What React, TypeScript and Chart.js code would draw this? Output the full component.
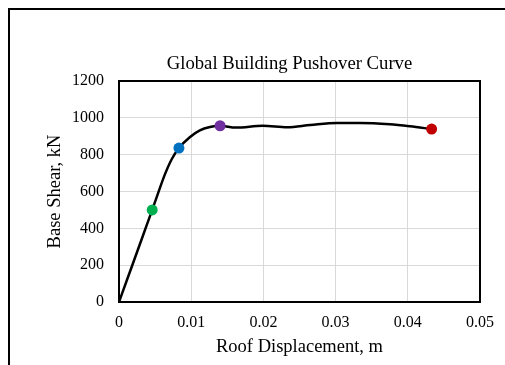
import React, { useEffect, useRef } from "react";
import { Chart, registerables } from "chart.js";

Chart.register(...registerables);

// Pushover curve (roof displacement in m, base shear in kN)
const displacement = [0, 0.0013, 0.0027, 0.0038, 0.0046, 0.0055, 0.0064, 0.0073, 0.0083, 0.0098, 0.0112, 0.0126, 0.014, 0.0162, 0.0199, 0.0233, 0.0265, 0.0302, 0.0334, 0.0375, 0.0403, 0.0433];
const baseShear = [0, 141, 293, 413, 500, 601, 697, 775, 836, 895, 932, 950, 957, 947, 957, 949, 961, 972, 972, 965, 954, 939];

// Performance points
const markerX = [0.0046, 0.0083, 0.014, 0.0433];
const markerY = [500, 836, 957, 939];
const markerColors = ["#00B050", "#0070C0", "#7030A0", "#C00000"];

const xTickLabels = ["0", "0.01", "0.02", "0.03", "0.04", "0.05"];
const yTickLabels = ["0", "200", "400", "600", "800", "1000", "1200"];

const chartTitle = "Global Building Pushover Curve";
const xTitle = "Roof Displacement, m";
const yTitle = "Base Shear, kN";

const FONT = "'Liberation Serif', 'Times New Roman', serif";

const framePlugin = {
  id: "plotFrame",
  beforeDatasetsDraw(chart: any) {
    const { ctx, chartArea } = chart;
    ctx.save();
    ctx.strokeStyle = "#000";
    ctx.lineWidth = 2;
    ctx.strokeRect(chartArea.left, chartArea.top, chartArea.right - chartArea.left, chartArea.bottom - chartArea.top);
    ctx.restore();
  },
  afterDraw(chart: any) {
    const { ctx, chartArea } = chart;
    ctx.save();
    ctx.fillStyle = "#000";
    ctx.font = `18.7px ${FONT}`;
    ctx.textAlign = "center";
    ctx.textBaseline = "alphabetic";
    ctx.fillText(chartTitle, chartArea.left + 170.5, chartArea.top - 12.5);
    ctx.restore();
  },
};

export default function App() {
  const ref = useRef<HTMLCanvasElement | null>(null);

  useEffect(() => {
    if (!ref.current) return;
    const datasets: any[] = [
      {
        data: displacement.map((x, i) => ({ x, y: baseShear[i] })),
        showLine: true,
        borderColor: "#000",
        borderWidth: 2.5,
        pointRadius: 0,
        cubicInterpolationMode: "monotone",
        order: 2,
      },
      ...markerX.map((x, i) => ({
        data: [{ x, y: markerY[i] }],
        pointRadius: 5.5,
        pointBackgroundColor: markerColors[i],
        pointBorderWidth: 0,
        showLine: false,
        order: 1,
      })),
    ];
    const chart = new Chart(ref.current, {
      type: "scatter",
      data: { datasets },
      options: {
        animation: false,
        responsive: false,
        devicePixelRatio: 1,
        layout: { padding: { left: 0, right: 25, top: 71, bottom: 0 } },
        plugins: {
          legend: { display: false },
          tooltip: { enabled: false },
          title: { display: false },
        },
        scales: {
          x: {
            type: "linear",
            min: 0,
            max: 0.05,
            border: { display: false },
            grid: { color: "#d9d9d9", lineWidth: 1, drawTicks: false },
            ticks: {
              stepSize: 0.01,
              padding: 11,
              color: "#000",
              font: { family: FONT, size: 16 },
              callback: (_v: any, i: number) => xTickLabels[i],
            },
            title: {
              display: true,
              text: xTitle,
              color: "#000",
              font: { family: FONT, size: 18.5 },
              padding: { top: 0, bottom: 7 },
            },
            afterFit: (s: any) => {
              s.height = 63;
            },
          },
          y: {
            type: "linear",
            min: 0,
            max: 1200,
            border: { display: false },
            grid: { color: "#d9d9d9", lineWidth: 1, drawTicks: false },
            ticks: {
              stepSize: 200,
              padding: 15,
              color: "#000",
              font: { family: FONT, size: 16 },
              callback: (_v: any, i: number) => yTickLabels[i],
            },
            title: {
              display: true,
              text: yTitle,
              color: "#000",
              font: { family: FONT, size: 18.5 },
              padding: { top: 34, bottom: 0 },
            },
            afterFit: (s: any) => {
              s.width = 109;
            },
          },
        },
      },
      plugins: [framePlugin],
    });
    return () => chart.destroy();
  }, []);

  return (
    <div
      style={{
        position: "fixed",
        left: 8,
        top: 8,
        width: 497,
        height: 357,
        borderLeft: "2px solid #000",
        borderTop: "2px solid #000",
        boxSizing: "border-box",
        background: "#fff",
      }}
    >
      <canvas ref={ref} width={495} height={355} style={{ display: "block", width: 495, height: 355 }} />
    </div>
  );
}
